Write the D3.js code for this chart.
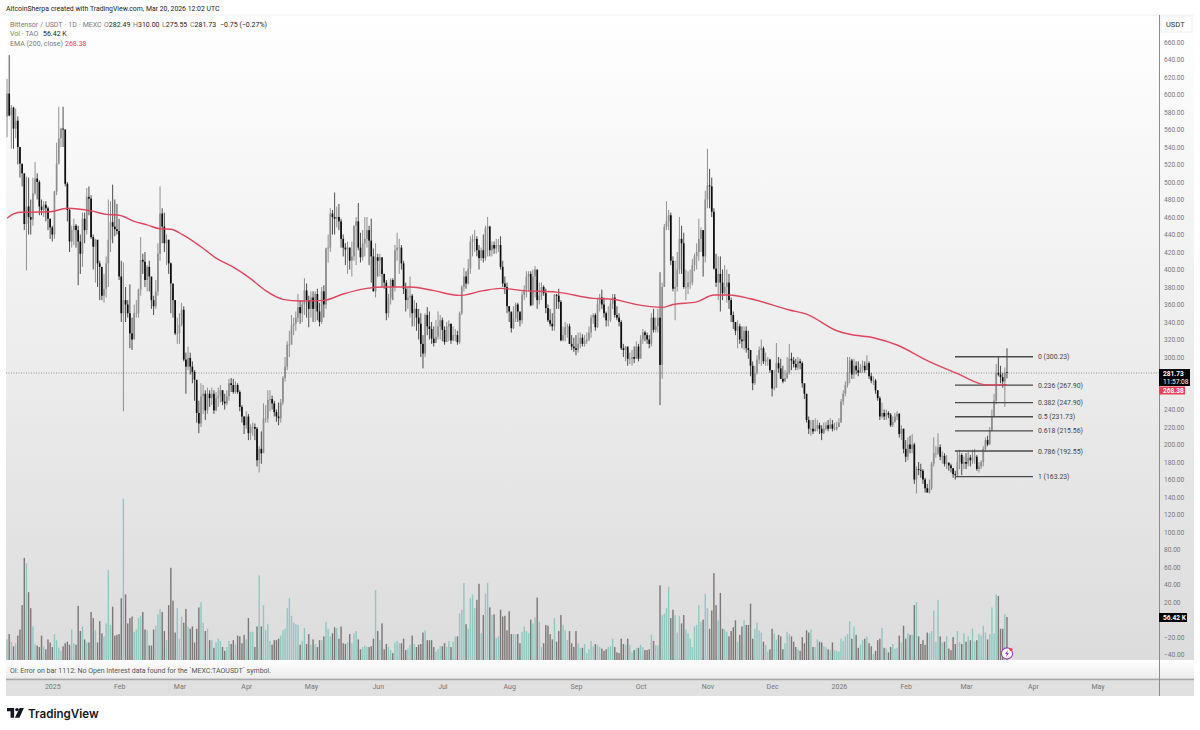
<!DOCTYPE html>
<html>
<head>
<meta charset="utf-8">
<script src="https://cdn.jsdelivr.net/npm/d3@7"></script>
<style>
html,body{margin:0;padding:0;background:#fff;}
svg{display:block;}
text{font-family:"Roboto","Liberation Sans",sans-serif;}
</style>
</head>
<body>
<svg id="chart" width="1200" height="730"></svg>
<script>
//Daily candles (opening price is the previous close)
var firstOpen = 575;
var closes = [
601,576,585,561,570,540,521,510,452,472,
460,457,487,504,500,472,468,474,470,458,
448,440,489,521,550,561,560,498,468,432,
445,450,445,432,418,458,445,483,481,437,
426,434,407,403,370,378,407,434,454,449,
446,444,392,350,365,360,350,327,320,350,
350,377,411,409,388,403,392,365,358,375,
418,464,449,430,434,407,384,365,327,327,
337,354,297,289,299,289,283,274,236,224,
255,258,239,258,253,258,239,253,255,262,
249,247,255,270,268,260,268,260,243,232,
222,232,213,220,220,218,182,195,190,230,
230,251,252,247,237,232,230,248,276,289,
314,314,336,338,345,357,350,360,376,365,
355,368,355,372,352,340,375,360,424,425,
464,460,458,460,455,435,425,423,425,410,
415,450,455,425,414,430,435,445,433,415,
375,414,410,414,395,385,350,367,388,380,
422,425,425,407,378,365,368,370,350,355,
345,338,315,304,348,335,332,321,316,323,
335,342,331,317,335,338,319,325,325,317,
350,380,392,384,401,432,435,435,422,413,
422,413,447,449,422,428,424,428,428,403,
384,380,358,352,333,344,360,352,342,371,
377,392,395,359,392,400,365,370,380,373,
356,342,338,335,371,370,363,319,325,334,
335,315,312,310,308,315,322,315,318,320,
328,345,348,334,361,368,360,350,342,342,
361,368,348,345,340,310,308,312,298,298,
300,298,312,298,320,328,325,320,315,345,
331,335,345,291,380,449,455,462,410,378,
380,400,435,430,380,380,385,385,405,415,
420,435,445,415,480,496,495,466,401,385,
395,385,373,380,385,365,348,340,330,335,
320,318,330,310,308,290,270,282,297,308,
310,295,297,297,285,264,265,293,287,275,
272,276,282,298,296,292,288,295,293,270,
258,228,218,218,215,218,222,218,213,218,
222,218,223,218,218,220,225,249,258,268,
282,296,280,290,285,282,288,290,285,293,
278,273,273,262,253,232,236,232,236,234,
222,226,232,235,212,218,195,186,200,195,
200,160,172,171,170,160,150,145,150,178,
190,190,197,186,187,178,179,176,173,166,
165,180,188,178,180,178,185,182,185,186,
172,175,180,195,205,200,216,232,250,282,
280,277,272,282.49,281.73];

var highs = [
618,645,588,586,584,575,540,520,505,506,
505,480,505,523,510,502,480,478,478,472,
458,450,490,545,586,562,586,560,500,470,
450,458,452,450,440,465,465,493,495,485,
440,435,415,410,390,395,415,480,478,497,
480,475,458,410,408,380,365,383,345,360,
365,378,437,418,420,405,410,385,370,388,
430,495,470,465,440,434,408,378,365,345,
350,362,358,305,312,305,295,285,270,250,
270,268,262,265,262,265,262,260,265,268,
262,258,262,275,276,275,272,270,262,245,
232,238,235,223,225,224,220,198,215,247,
245,262,262,256,250,240,248,252,278,300,
318,330,348,345,352,372,365,365,390,384,
370,375,375,375,378,362,380,382,425,440,
470,468,488,472,475,458,440,430,432,425,
432,450,460,476,442,445,460,460,450,458,
424,430,418,418,400,395,388,372,390,390,
428,442,435,428,410,385,380,392,372,365,
362,355,350,325,350,357,352,340,335,342,
352,348,345,335,340,342,338,335,332,330,
352,382,402,398,412,438,440,445,438,428,
425,440,450,460,450,432,432,435,435,438,
410,392,385,358,350,358,362,362,350,375,
382,398,398,398,400,404,388,385,385,382,
378,360,355,350,372,372,378,365,335,340,
338,338,325,322,325,328,328,326,325,328,
335,348,350,350,368,372,377,368,352,358,
365,372,372,358,350,342,315,312,308,305,
308,312,318,315,325,332,330,328,325,350,
355,345,355,397,385,452,478,468,465,415,
410,420,460,450,442,400,398,400,412,418,
430,458,448,445,490,538,515,505,470,418,
415,415,400,405,400,395,368,352,340,342,
338,335,335,335,330,308,295,290,302,312,
320,312,305,300,298,285,285,316,300,298,
290,285,300,315,305,300,298,300,298,295,
265,258,232,228,228,230,228,225,222,225,
226,228,230,228,225,226,230,252,262,272,
300,300,298,298,295,295,292,296,295,302,
295,282,278,275,262,255,248,240,240,238,
236,232,236,238,236,222,218,205,208,210,
212,202,175,180,178,172,162,155,160,180,
208,198,213,200,192,190,188,180,178,172,
170,192,194,190,186,190,192,188,194,195,
188,180,182,198,208,210,220,240,258,292,
300,290,282,288,310];

var lows = [
551,575,538,538,550,520,505,495,445,399,
440,440,450,485,480,462,462,460,455,445,
435,432,435,485,520,540,540,495,455,420,
425,428,425,382,395,403,430,440,462,435,
400,385,380,365,365,362,368,380,420,430,
438,440,388,340,238,340,345,310,308,325,
345,345,370,395,380,375,375,355,348,355,
370,410,430,420,405,395,350,345,325,315,
315,335,295,258,285,280,270,250,225,213,
220,235,228,235,243,245,235,238,243,248,
245,240,245,250,260,258,258,258,238,225,
212,218,205,205,210,205,175,168,178,205,
225,225,238,240,232,226,222,225,245,272,
285,300,315,325,330,340,338,340,348,345,
334,345,340,340,342,335,338,345,355,408,
420,440,440,448,445,425,415,405,395,400,
392,410,405,422,408,410,415,425,405,385,
375,368,392,392,380,378,342,345,360,365,
375,410,395,400,372,352,355,345,335,335,
330,320,300,287,300,325,320,315,312,318,
320,320,318,314,320,318,315,318,318,314,
315,348,375,378,383,395,415,420,415,400,
410,408,410,415,415,415,418,418,420,400,
380,372,350,340,328,332,340,340,335,338,
365,368,375,358,372,368,355,360,365,370,
350,340,335,330,330,355,355,318,318,318,
322,315,308,306,302,305,310,312,312,315,
318,322,338,330,333,352,355,345,335,335,
340,355,345,342,335,308,300,295,290,292,
290,293,298,295,300,315,318,315,310,312,
328,328,328,245,275,380,445,445,405,375,
342,375,395,395,378,365,372,378,382,398,
400,410,420,392,408,470,470,460,400,380,
365,352,365,370,362,355,340,332,325,310,
315,310,308,305,298,278,262,268,280,292,
290,292,290,290,282,255,262,265,282,275,
270,272,275,280,285,288,285,285,286,265,
252,225,212,210,212,215,215,212,205,212,
216,215,218,215,216,216,220,225,245,255,
265,270,275,275,280,278,282,282,282,285,
275,270,268,258,250,228,230,228,228,230,
220,220,225,228,208,205,190,180,182,190,
190,155,144,165,162,155,145,146,144,148,
175,185,188,182,178,175,172,170,168,162,
160,163,172,165,172,172,175,175,178,178,
170,168,172,175,192,198,200,216,232,246,
278,270,265,243,275.55];

//Volume per bar, in thousands of TAO
var volumes = [
27,34,24,18,22,32,40,72,134,127,
89,68,44,21,19,17,32,18,14,27,
23,17,34,26,16,12,18,22,24,20,
40,22,20,71,38,44,27,23,23,63,
55,39,23,51,35,31,48,118,46,70,
32,33,34,81,212,86,48,55,57,37,
40,55,58,63,40,39,19,19,40,45,
60,67,63,38,26,72,121,78,36,68,
28,57,49,67,44,41,44,23,41,69,
76,49,38,41,26,26,16,23,28,25,
17,12,17,25,21,26,20,32,31,22,
33,27,55,37,37,17,44,111,44,72,
39,47,25,20,26,26,28,32,39,41,
68,81,58,49,47,46,20,25,42,21,
34,20,27,21,17,26,26,31,50,41,
31,35,43,42,28,44,22,21,23,34,
22,35,38,27,14,17,19,17,17,18,
28,92,38,26,48,14,21,17,13,9,
23,25,22,22,28,13,15,20,32,21,
17,20,21,36,39,26,26,26,17,11,
14,18,18,22,17,25,17,24,31,31,
61,66,101,47,41,81,86,68,79,100,
35,59,87,101,69,59,60,29,31,66,
57,58,39,64,34,34,34,34,22,37,
44,38,35,53,48,56,82,50,17,22,
46,45,34,27,55,24,38,59,46,39,
26,38,22,17,38,22,16,16,21,9,
14,25,18,21,20,17,15,12,14,17,
18,28,17,10,9,28,21,20,28,20,
10,13,15,16,20,17,13,13,14,33,
25,19,19,98,59,61,68,96,55,66,
59,36,58,48,59,40,35,28,17,44,
46,72,
50,53,87,68,41,65,114,72,52,88,
41,40,37,31,38,43,52,24,33,44,
52,46,46,74,28,41,49,39,36,24,
20,11,14,41,35,27,33,31,14,22,
37,34,31,24,17,14,12,30,22,39,
36,40,17,17,27,24,23,18,17,14,
13,23,13,12,11,28,25,31,34,51,
28,44,33,16,20,26,28,31,22,18,
8,12,26,28,42,16,15,10,17,21,
15,16,32,23,45,28,35,33,33,72,
76,31,21,26,20,36,35,38,65,24,
79,31,23,24,31,15,13,30,21,38,
24,21,35,24,31,26,41,24,26,34,
32,45,36,27,34,69,35,86,84,41,
41,60,56.42];

//EMA (200, close), read at the bars where the line bends
var emaBars = [0,3,6,10,20,28,39,46,52,59,65,71,76,82,90,97,105,113,120,128,136,147,156,167,175,187,198,210,221,229,240,255,272,281,291,304,309,320,328,335,345,363,371,385,391,402,413,428,441,455,464];
var emaValues = [458.6,463.5,465.5,465.5,466,470,467,463,462,455,451,446.5,446,439,426,413,402.6,389.5,375.8,365.9,364,364.7,372,378.4,380,380,375.8,370.4,375.8,378.4,375.8,374.2,367,366,360.5,356.7,360,363,370.8,370.8,366.6,353.7,349,330,326,322,313.7,294.6,281,268,268.38];

//Fibonacci retracement
var fibRatios = ["0","0.236","0.382","0.5","0.618","0.786","1"];
var fibPrices = [300.23,267.90,247.90,231.73,215.56,192.55,163.23];

//Axis ticks (0, 260 and 280 sit under the price labels, so they don't show)
var priceTicks = [-40,-20,20,40,60,80,100,120,140,160,180,200,220,240,300,320,340,360,380,400,420,440,460,480,500,520,540,560,580,600,620,640,660];
var timeTicks = ["2025-01-01","2025-02-01","2025-03-01","2025-04-01","2025-05-01","2025-06-01","2025-07-01","2025-08-01","2025-09-01","2025-10-01","2025-11-01","2025-12-01","2026-01-01","2026-02-01","2026-03-01","2026-04-01","2026-05-01"];
var timeLabels = ["2025","Feb","Mar","Apr","May","Jun","Jul","Aug","Sep","Oct","Nov","Dec","2026","Feb","Mar","Apr","May"];

var firstBar = new Date(Date.UTC(2024,11,11));
var lastPrice = 281.73, lastEma = 268.38, lastVolume = 56.42;

//Scales
var x = d3.scaleUtc()
  .domain([new Date(Date.UTC(2025,0,1)), new Date(Date.UTC(2026,4,1))])
  .range([52.3,1097.5]);
var y = d3.scaleLinear().domain([660,-40]).range([42,654.5]);
var yVol = d3.scaleLinear().domain([0,56.42]).range([660,617]);

var bars = closes.map(function(c,i) {
  var o = i==0 ? firstOpen : closes[i-1];
  return {date:d3.utcDay.offset(firstBar,i), o:o, h:highs[i], l:lows[i], c:c, v:volumes[i]};
});
var svg = d3.select("#chart");

//Background gradients
var defs = svg.append("defs");
var paneGrad = defs.append("linearGradient").attr("id","paneGrad").attr("x1",0).attr("y1",0).attr("x2",0).attr("y2",1);
paneGrad.append("stop").attr("offset","0%").attr("stop-color","#ffffff");
paneGrad.append("stop").attr("offset","100%").attr("stop-color","#dcdcdc");
var barGrad = defs.append("linearGradient").attr("id","barGrad").attr("x1",0).attr("y1",0).attr("x2",0).attr("y2",1);
barGrad.append("stop").attr("offset","0%").attr("stop-color","#ffffff");
barGrad.append("stop").attr("offset","100%").attr("stop-color","#ececec");

svg.append("rect").attr("x",6).attr("y",15).attr("width",1188).attr("height",645).attr("fill","url(#paneGrad)");
svg.append("rect").attr("x",6).attr("y",660).attr("width",1188).attr("height",18).attr("fill","url(#barGrad)");
svg.append("rect").attr("x",6).attr("y",681).attr("width",1188).attr("height",15).attr("fill","#e0e0e0");
svg.append("line").attr("x1",6).attr("x2",1194).attr("y1",15).attr("y2",15).attr("stroke","#eeeeee");
svg.append("line").attr("x1",6).attr("x2",1194).attr("y1",679.5).attr("y2",679.5).attr("stroke","#a8a8a8").attr("stroke-width",2);
svg.append("line").attr("x1",1159.5).attr("x2",1159.5).attr("y1",15).attr("y2",696).attr("stroke","#8c8c8c").attr("stroke-width",1);

//Last price line
svg.append("line")
  .attr("x1",6).attr("x2",1159)
  .attr("y1",y(lastPrice)).attr("y2",y(lastPrice))
  .attr("stroke","#555").attr("stroke-width",0.6).attr("stroke-dasharray","1,1.5");

//Volume bars
svg.append("g").selectAll("rect")
  .data(bars).enter().append("rect")
  .attr("x",function(d) { return x(d.date)-0.7; })
  .attr("width",1.4)
  .attr("y",function(d) { return yVol(d.v); })
  .attr("height",function(d) { return 660-yVol(d.v); })
  .attr("fill",function(d) { return d.c>=d.o ? "#8fc8c1" : "#7c7676"; });

//Candle wicks
svg.append("g").selectAll("line")
  .data(bars).enter().append("line")
  .attr("x1",function(d) { return x(d.date); })
  .attr("x2",function(d) { return x(d.date); })
  .attr("y1",function(d) { return y(d.h); })
  .attr("y2",function(d) { return y(d.l); })
  .attr("stroke",function(d) { return d.c>=d.o ? "#777" : "#222"; })
  .attr("stroke-width",0.8);

//Candle bodies
svg.append("g").selectAll("rect")
  .data(bars).enter().append("rect")
  .attr("x",function(d) { return x(d.date)-0.85; })
  .attr("width",1.7)
  .attr("y",function(d) { return y(Math.max(d.o,d.c)); })
  .attr("height",function(d) { return Math.max(0.6,Math.abs(y(d.o)-y(d.c))); })
  .attr("fill",function(d) { return d.c>=d.o ? "#8e8e8e" : "#0c0c0c"; });

//Fib levels
var fibG = svg.append("g");
fibG.selectAll("line")
  .data(fibPrices).enter().append("line")
  .attr("x1",955).attr("x2",1033)
  .attr("y1",function(d) { return y(d); })
  .attr("y2",function(d) { return y(d); })
  .attr("stroke","#4a4a4a").attr("stroke-width",1.4);
fibG.selectAll("text")
  .data(fibPrices).enter().append("text")
  .attr("x",1038)
  .attr("y",function(d) { return y(d)+2.6; })
  .attr("font-size",6.9)
  .attr("fill","#444")
  .text(function(d,i) { return fibRatios[i]+" ("+d.toFixed(2)+")"; });

//EMA line
var emaLine = d3.line()
  .x(function(d) { return x(d3.utcDay.offset(firstBar,d)); })
  .y(function(d,i) { return y(emaValues[i]); })
  .curve(d3.curveMonotoneX);
svg.append("path")
  .attr("d",emaLine(emaBars))
  .attr("fill","none")
  .attr("stroke","#e0455f")
  .attr("stroke-width",1.4);

//Price axis
var yAxis = svg.append("g")
  .attr("transform","translate(1159,0)")
  .call(d3.axisRight(y).tickValues(priceTicks).tickSize(0).tickPadding(5)
    .tickFormat(function(d) { return (d<0 ? "\u2212"+(-d).toFixed(2) : d.toFixed(2)); }));
yAxis.select(".domain").remove();
yAxis.selectAll("text").attr("font-size",6.6).attr("fill","#777").style("font-family","Roboto,sans-serif");

//Time axis
var xAxis = svg.append("g")
  .attr("transform","translate(0,684)")
  .call(d3.axisBottom(x).tickValues(timeTicks.map(function(d) { return new Date(d+"T00:00:00Z"); }))
    .tickSize(0).tickPadding(0)
    .tickFormat(function(d,i) { return timeLabels[i]; }));
xAxis.select(".domain").remove();
xAxis.selectAll("text").attr("font-size",7).attr("fill","#777").style("font-family","Roboto,sans-serif");

//USDT box
svg.append("rect").attr("x",1161).attr("y",16).attr("width",31).attr("height",16).attr("fill","#fff").attr("stroke","#f0f0f0");
svg.append("text").attr("x",1166).attr("y",27).attr("font-size",7.5).attr("fill","#333").text("USDT");

//Axis price labels
svg.append("rect").attr("x",1159).attr("y",369).attr("width",31).attr("height",17).attr("fill","#000");
svg.append("text").attr("x",1163).attr("y",376).attr("font-size",6.6).attr("font-weight","bold").attr("fill","#fff").text(lastPrice.toFixed(2));
svg.append("text").attr("x",1163).attr("y",384).attr("font-size",6.6).attr("fill","#fff").text("11:57:08");
svg.append("rect").attr("x",1159).attr("y",386.5).attr("width",26).attr("height",8).attr("fill","#ef3e55");
svg.append("text").attr("x",1163).attr("y",393).attr("font-size",6.6).attr("font-weight","bold").attr("fill","#fff").text(lastEma.toFixed(2));
svg.append("rect").attr("x",1159).attr("y",613).attr("width",28).attr("height",9).attr("fill","#000");
svg.append("text").attr("x",1163).attr("y",620).attr("font-size",6.6).attr("font-weight","bold").attr("fill","#fff").text(lastVolume+" K");

//Title
svg.append("text").attr("x",6).attr("y",10.8).attr("font-size",6.9).attr("fill","#222")
  .text("AltcoinSherpa created with TradingView.com, Mar 20, 2026 12:02 UTC");

//Legend
var legendGray = "#7a7a7a", legendDark = "#222";
svg.append("text").attr("x",10).attr("y",26.5).attr("font-size",7).attr("fill",legendGray)
  .style("word-spacing","0.3px").text("Bittensor / USDT \u00b7 1D \u00b7 MEXC");
var ohlcLetters = ["O","H","L","C"], ohlcValues = ["282.49","310.00","275.55","281.73"], ohlcX = [104,133,162,190];
ohlcLetters.forEach(function(s,i) {
  var t = svg.append("text").attr("x",ohlcX[i]).attr("y",26.5).attr("font-size",7).attr("fill",legendGray);
  t.append("tspan").text(s);
  t.append("tspan").attr("fill",legendDark).text(ohlcValues[i]);
});
svg.append("text").attr("x",220).attr("y",26.5).attr("font-size",7).attr("fill",legendDark).text("\u22120.75 (\u22120.27%)");
svg.append("text").attr("x",10).attr("y",36).attr("font-size",7).attr("fill",legendGray).text("Vol \u00b7 TAO");
svg.append("text").attr("x",43).attr("y",36).attr("font-size",7).attr("fill",legendDark).text("56.42 K");
svg.append("text").attr("x",10).attr("y",45.5).attr("font-size",7).attr("fill",legendGray).text("EMA (200, close)");
svg.append("text").attr("x",65).attr("y",45.5).attr("font-size",7).attr("fill","#ef3e55").text("268.38");

//Status line
svg.append("text").attr("x",10).attr("y",672.5).attr("font-size",7).attr("fill","#555")
  .text("OI: Error on bar 1112: No Open Interest data found for the `MEXC:TAOUSDT` symbol.");

//Lightning marker on last bar
var bolt = svg.append("g").attr("transform","translate(1007,653.5)");
bolt.append("circle").attr("r",5.6).attr("fill","#fff").attr("stroke","#9c3fc0").attr("stroke-width",1.1);
bolt.append("path").attr("d","M1,-3.4L-2,0.6H-0.2L-1,3.4L2,-0.6H0.2Z").attr("fill","#9c3fc0");
bolt.append("circle").attr("cx",4).attr("cy",-4).attr("r",1.6).attr("fill","#ef3e55");

//Logo
var logo = svg.append("g").attr("transform","translate(7,708) scale(0.94,0.85)").attr("fill","#131722");
logo.append("path").attr("d","M0,0H7.6V11.4H3.8V3.8H0Z");
logo.append("circle").attr("cx",10.6).attr("cy",1.9).attr("r",1.9);
logo.append("path").attr("d","M13.4,0H18L13.2,11.4H8.4Z");
svg.append("text").attr("x",28).attr("y",717.5).attr("font-size",11.6).attr("font-weight","600")
  .style("font-family","Inter,sans-serif").attr("fill","#131722").text("TradingView");
</script>
</body>
</html>
